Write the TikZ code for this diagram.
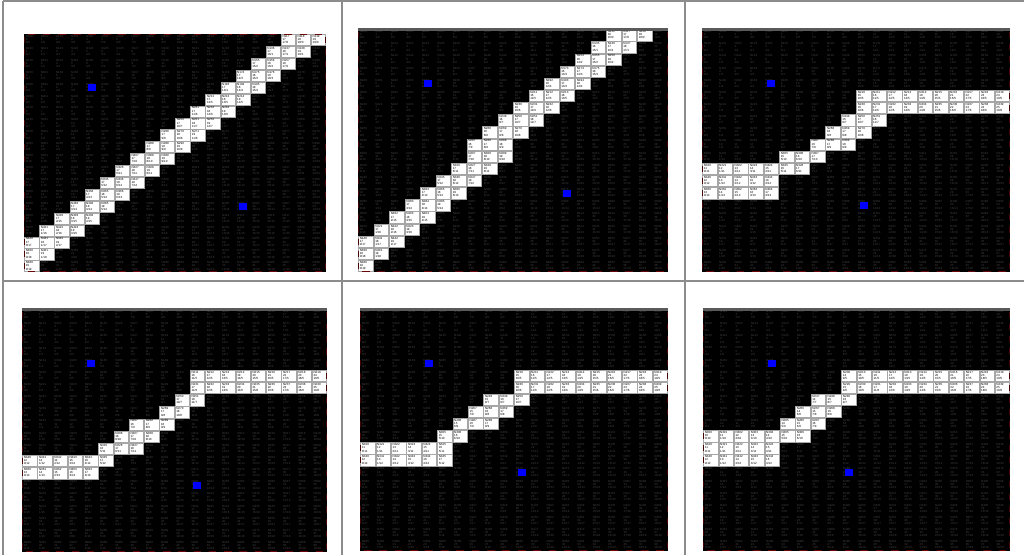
\documentclass[tikz,border=0pt]{standalone}
\usepackage{fontspec}
\setsansfont{Liberation Sans}
\definecolor{cellgray}{HTML}{404040}
\definecolor{wallred}{HTML}{6A0606}
\definecolor{framegray}{HTML}{8C8C8C}
\definecolor{bargray}{HTML}{5A5A5A}
\tikzset{
  gridtxt/.style={font=\fontsize{3.0}{3.15}\selectfont\sffamily, text=cellgray, align=left, inner sep=0pt, anchor=north west},
  pathtxt/.style={gridtxt, text=black},
  pathcell/.style={fill=white, draw=gray!70, line width=0.4},
  goalcell/.style={fill=blue},
  wall/.style={draw=wallred, line width=0.9},
  sidewall/.style={draw=wallred!70!black, line width=0.7}
}
% #1 name, #2 x0, #3 y0, #4 W, #5 H, #6 white list r/cmin/cmax, #7 blue1 c/r, #8 blue2 c/r
\newcommand\drawpanel[8]{%
  \begin{scope}[shift={(#2,#3)}]
    \pgfmathsetmacro\cw{#4/20}
    \pgfmathsetmacro\ch{#5/20}
    \fill[black] (0,0) rectangle (#4,#5);
    \foreach \r in {0,...,19}{%
      \foreach \c in {0,...,19}{%
        \pgfmathtruncatemacro\id{100+20*\r+\c}%
        \pgfmathtruncatemacro\g{\c+\r}%
        \node[gridtxt] (#1-\c-\r) at ({\c*\cw+1.6},{\r*\ch+1.3}) {N\id\\\g\\\c/\r};
      }%
    }%
    \foreach \r/\a/\b in {#6}{%
      \foreach \c in {\a,...,\b}{%
        \pgfmathtruncatemacro\id{100+20*\r+\c}%
        \pgfmathtruncatemacro\g{\c+\r}%
        \path[pathcell] ({\c*\cw+0.4},{\r*\ch+0.4}) rectangle ({(\c+1)*\cw-0.4},{(\r+1)*\ch-0.4});
        \node[pathtxt] (#1-w-\c-\r) at ({\c*\cw+1.6},{\r*\ch+1.3}) {N\id\\\g\\\c/\r};
      }%
    }%
    \foreach \c/\r in {#7,#8}{%
      \fill[goalcell] ({(\c+0.5)*\cw-4},{(\r+0.5)*\ch-3.5}) rectangle ({(\c+0.5)*\cw+4},{(\r+0.5)*\ch+3.5});
    }%
    \foreach \c in {0,...,19}{%
      \path[wall] ({(\c+0.25)*\cw},0.8) -- ({(\c+0.75)*\cw},0.8);
      \path[wall] ({(\c+0.25)*\cw},{#5-0.8}) -- ({(\c+0.75)*\cw},{#5-0.8});
    }%
    \foreach \r in {0,...,19}{%
      \path[sidewall] (0.7,{(\r+0.25)*\ch}) -- (0.7,{(\r+0.75)*\ch});
      \path[sidewall] ({#4-0.7},{(\r+0.25)*\ch}) -- ({#4-0.7},{(\r+0.75)*\ch});
    }%
  \end{scope}%
}
\begin{document}
\begin{tikzpicture}[x=1pt,y=-1pt]
\useasboundingbox (0,0) rectangle (1024,555);
\fill[white] (0,0) rectangle (1024,555);
% frame of the six cells
\draw[framegray, line width=1.2] (3,1) -- (1024,1);
\draw[framegray, line width=1.2] (3,1) -- (3,555);
\draw[framegray, line width=1.2] (342,1) -- (342,555);
\draw[framegray, line width=1.2] (685,1) -- (685,555);
\draw[framegray, line width=1.2] (3,281) -- (1024,281);

\drawpanel{pa}{24}{34}{302}{238}{0/17/19,1/16/18,2/15/17,3/14/16,4/13/15,5/12/14,6/11/13,7/10/12,8/9/11,9/8/10,10/7/9,11/6/8,12/5/7,13/4/6,14/3/5,15/2/4,16/1/3,17/0/2,18/0/1,19/0/0}{4/4}{14/14}
\drawpanel{pb}{358}{29}{310}{243}{0/16/18,1/15/17,2/14/16,3/13/15,4/12/14,5/11/13,6/10/12,7/9/11,8/8/10,9/7/9,10/7/9,11/6/8,12/5/7,13/4/6,14/3/5,15/2/4,16/1/3,17/0/2,18/0/1,19/0/0}{4/4}{13/13}
\drawpanel{pc}{702}{29}{308}{243}{5/10/19,6/10/19,7/9/11,8/8/10,9/7/9,10/5/7,11/0/6,12/0/4,13/0/4}{4/4}{10/14}
\drawpanel{pd}{22}{309}{305}{243}{5/11/19,6/11/19,7/10/11,8/9/10,9/7/9,10/6/8,11/5/7,12/0/5,13/0/4}{4/4}{11/14}
\drawpanel{pe}{360}{309}{308}{242}{5/10/19,6/10/19,7/8/10,8/7/9,9/6/8,10/5/6,11/0/5,12/0/5}{4/4}{10/13}
\drawpanel{pf}{703}{309}{307}{242}{5/9/19,6/9/19,7/7/9,8/6/8,9/5/7,10/0/6,11/0/4,12/0/4}{4/4}{9/13}

% title bars
\fill[bargray] (358,28) rectangle (668,31);
\fill[bargray] (702,28) rectangle (1010,31);
\fill[bargray] (22,308) rectangle (327,311);
\fill[bargray] (360,308) rectangle (668,311);
\fill[bargray] (703,308) rectangle (1010,311);
\end{tikzpicture}
\end{document}
